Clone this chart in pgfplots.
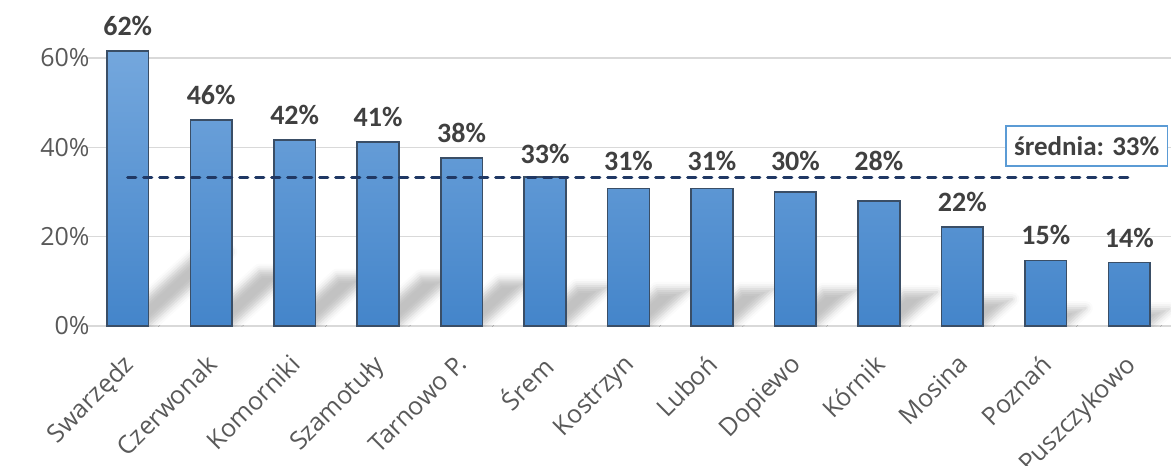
\documentclass[border=0pt]{standalone}
\usepackage{pgfplots}
\pgfplotsset{compat=1.18}
\usepackage{fontspec}
\setmainfont{Carlito}
\newfontfamily\tickfont{Open Sans}
\usetikzlibrary{shadows.blur}
\definecolor{bartop}{HTML}{74A7DD}
\definecolor{barbot}{HTML}{4485CA}
\definecolor{barline}{HTML}{3A4E66}
\definecolor{meanc}{HTML}{203864}
\definecolor{labc}{HTML}{404040}
\definecolor{tickc}{HTML}{595959}
\definecolor{gridc}{HTML}{D9D9D9}
\definecolor{boxc}{HTML}{5B9BD5}
\pgfplotstableread{
x   y    off
0   61.6 11
1   46.1 11
2   41.7 11
3   41.2 11
4   37.6 11
5   33.4 9
6   30.8 14
7   30.8 14
8   30.0 17
9   28.0 26
10  22.2 11
11  14.7 11
12  14.2 11
}\bars
\begin{document}
\begin{tikzpicture}
\begin{axis}[
  name=ax,
  scale only axis,
  width=1085pt, height=312.7pt,
  xmin=-0.5, xmax=12.5,
  ymin=0, ymax=70,
  axis line style={draw=none},
  tick style={draw=none},
  ymajorgrids,
  grid style={gridc, line width=1.3pt},
  ytick={0,20,40,60},
  xtick={0,...,12},
  xticklabels={Swarzędz, Czerwonak, Komorniki, Szamotuły, Tarnowo P., Śrem, Kostrzyn, Luboń, Dopiewo, Kórnik, Mosina, Poznań, Puszczykowo},
  /pgf/number format/assume math mode=true,
  yticklabel={\pgfmathprintnumber{\tick}\%},
  yticklabel style={font=\tickfont\fontsize{25}{28}\selectfont, text=tickc, xshift=7pt},
  xticklabel style={font=\tickfont\fontsize{25}{28}\selectfont, text=tickc, anchor=north east, xshift=-6pt, yshift=-22pt, rotate=45},
  clip=true,
]
% shadows (decorative), parallelograms derived from bar values
\addplot[draw=none, fill=none, unbounded coords=jump,
  blur shadow={shadow xshift=0pt, shadow yshift=0pt, shadow blur radius=7pt, shadow opacity=24}]
  coordinates {
  (-0.15,0) (0.25,0) (1.23,16.6) (0.83,16.6) (-0.15,0) (0,nan)
  (0.85,0) (1.25,0) (1.98,12.4) (1.58,12.4) (0.85,0) (1,nan)
  (1.85,0) (2.25,0) (2.91,11.3) (2.51,11.3) (1.85,0) (2,nan)
  (2.85,0) (3.25,0) (3.91,11.1) (3.51,11.1) (2.85,0) (3,nan)
  (3.85,0) (4.25,0) (4.85,10.2) (4.45,10.2) (3.85,0) (4,nan)
  (4.85,0) (5.25,0) (5.78,9.0) (5.38,9.0) (4.85,0) (5,nan)
  (5.85,0) (6.25,0) (6.74,8.3) (6.34,8.3) (5.85,0) (6,nan)
  (6.85,0) (7.25,0) (7.74,8.3) (7.34,8.3) (6.85,0) (7,nan)
  (7.85,0) (8.25,0) (8.73,8.1) (8.33,8.1) (7.85,0) (8,nan)
  (8.85,0) (9.25,0) (9.70,7.6) (9.30,7.6) (8.85,0) (9,nan)
  (9.85,0) (10.25,0) (10.60,6.0) (10.20,6.0) (9.85,0) (10,nan)
  (10.85,0) (11.25,0) (11.48,4.0) (11.08,4.0) (10.85,0) (11,nan)
  (11.85,0) (12.25,0) (12.48,3.8) (12.08,3.8) (11.85,0)
  };
% bars
\addplot[ybar, bar width=0.5, draw=barline, line width=1.6pt,
  top color=bartop, bottom color=barbot,
  visualization depends on={\thisrow{off} \as \laboff},
  nodes near coords={\pgfmathprintnumber[fixed, precision=0]{\pgfplotspointmeta}\%},
  every node near coord/.append style={font=\bfseries\fontsize{28}{32}\selectfont, text=labc, yshift=\laboff pt}]
  table[x=x, y=y] {\bars};
% mean line
\addplot[meanc, line width=3.2pt, dash pattern=on 8pt off 8pt, line cap=round]
  coordinates {(0,33.2) (12,33.2)};
\node[draw=boxc, line width=1.6pt, fill=white, text=labc,
  font=\bfseries\fontsize{27}{31}\selectfont, inner xsep=8pt, inner ysep=0pt,
  minimum height=40pt]
  at (axis cs:11.49,40.3) {średnia: 33\%};
\end{axis}
\pgfresetboundingbox
\path (ax.south west) ++(-86pt,-140pt) rectangle ++(1171pt,466pt);
\end{tikzpicture}
\end{document}
